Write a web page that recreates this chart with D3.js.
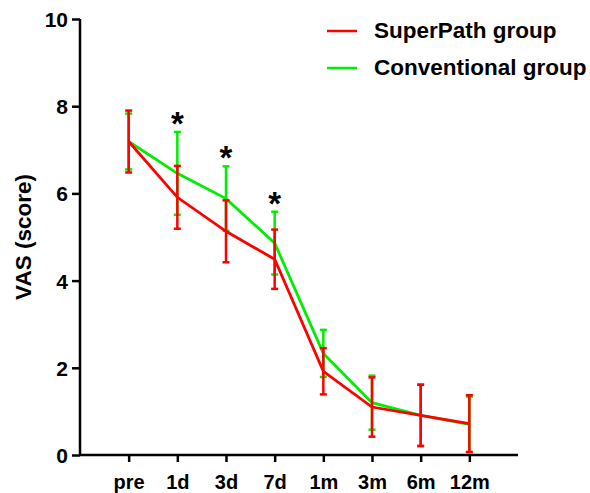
<!DOCTYPE html>
<html>
<head>
<meta charset="utf-8">
<script src="https://cdn.jsdelivr.net/npm/d3@7"></script>
<style>
  body { margin: 0; background: #fff; }
  svg text { font-family: "Liberation Sans", Arial, sans-serif; font-weight: bold; }
</style>
</head>
<body>
<div id="chart"></div>
<script>
const timepoints = ['pre', '1d', '3d', '7d', '1m', '3m', '6m', '12m'];
const superMean = [7.19, 5.91, 5.13, 4.49, 1.92, 1.10, 0.91, 0.72];
const superSd   = [0.71, 0.72, 0.71, 0.68, 0.53, 0.68, 0.70, 0.65];
const convMean  = [7.19, 6.46, 5.88, 4.86, 2.33, 1.20, 0.91, 0.70];
const convSd    = [0.64, 0.95, 0.74, 0.72, 0.54, 0.62, 0.71, 0.64];
const starred   = ['1d', '3d', '7d'];
const yTicks    = [0, 2, 4, 6, 8, 10];

const width = 590, height = 493;
const margin = { top: 19, right: 72, bottom: 38, left: 80 };

const svg = d3.select('#chart').append('svg')
  .attr('width', width)
  .attr('height', height);

const x = d3.scalePoint()
  .domain(timepoints)
  .range([margin.left, width - margin.right])
  .padding(1);

const y = d3.scaleLinear()
  .domain([0, 10])
  .range([height - margin.bottom, margin.top]);

// axes
const xAxis = svg.append('g')
  .attr('transform', `translate(0,${height - margin.bottom})`)
  .call(d3.axisBottom(x).tickSize(7).tickPadding(13));
xAxis.selectAll('text').attr('font-size', 20).attr('fill', '#000');

const yAxis = svg.append('g')
  .attr('transform', `translate(${margin.left},0)`)
  .call(d3.axisLeft(y).tickValues(yTicks).tickSize(8).tickPadding(4));
yAxis.selectAll('text').attr('font-size', 21).attr('fill', '#000').attr('dy', '0.36em');

svg.selectAll('.domain').attr('stroke', '#000').attr('stroke-width', 2.5);
svg.selectAll('.tick line').attr('stroke', '#000').attr('stroke-width', 2.5);
xAxis.select('.domain').attr('d', `M${margin.left},0H${width - margin.right}`);
yAxis.select('.domain').attr('d', `M0,${y(0)}V${y(10)}`);

svg.append('text')
  .attr('transform', `translate(31,${(y(0) + y(10)) / 2}) rotate(-90)`)
  .attr('text-anchor', 'middle')
  .attr('font-size', 22.5)
  .text('VAS (score)');

const series = [
  { name: 'Conventional group', color: '#00ee00', mean: convMean, sd: convSd },
  { name: 'SuperPath group', color: '#ff0000', mean: superMean, sd: superSd }
];

const line = d3.line()
  .x((d, i) => x(timepoints[i]))
  .y(d => y(d));

series.forEach(s => {
  const g = svg.append('g');
  const capW = 3.5;
  timepoints.forEach((t, i) => {
    const hi = s.mean[i] + s.sd[i], lo = s.mean[i] - s.sd[i];
    g.append('line')
      .attr('x1', x(t)).attr('x2', x(t))
      .attr('y1', y(hi)).attr('y2', y(lo))
      .attr('stroke', s.color).attr('stroke-width', 2.5);
    [hi, lo].forEach(v => {
      g.append('line')
        .attr('x1', x(t) - capW).attr('x2', x(t) + capW)
        .attr('y1', y(v)).attr('y2', y(v))
        .attr('stroke', s.color).attr('stroke-width', 2.5);
    });
  });
  g.append('path')
    .datum(s.mean)
    .attr('fill', 'none')
    .attr('stroke', s.color)
    .attr('stroke-width', 2.8)
    .attr('d', line);
});

// significance stars
starred.forEach(t => {
  const i = timepoints.indexOf(t);
  svg.append('text')
    .attr('x', x(t))
    .attr('y', y(convMean[i] + convSd[i]) + 3)
    .attr('text-anchor', 'middle')
    .attr('font-size', 33)
    .text('*');
});

// legend
const legend = [
  { name: 'SuperPath group', color: '#ff0000' },
  { name: 'Conventional group', color: '#00ee00' }
];
legend.forEach((d, i) => {
  const ly = 31 + i * 37;
  svg.append('line')
    .attr('x1', 327).attr('x2', 357)
    .attr('y1', ly).attr('y2', ly)
    .attr('stroke', d.color).attr('stroke-width', 2.5);
  svg.append('text')
    .attr('x', 374)
    .attr('y', ly + 7)
    .attr('font-size', 22.5)
    .text(d.name);
});
</script>
</body>
</html>
